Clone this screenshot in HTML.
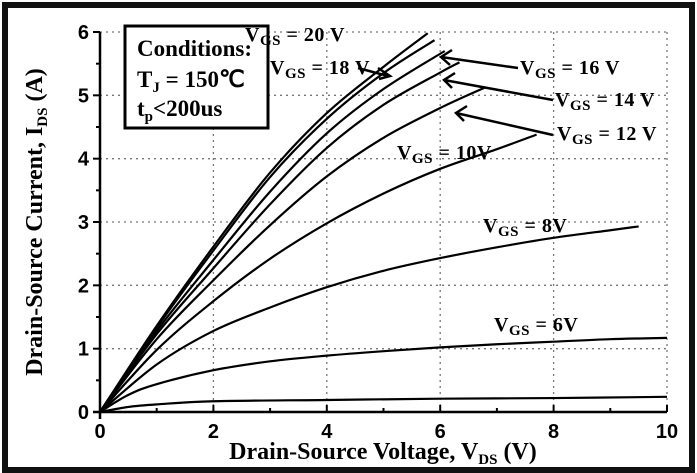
<!DOCTYPE html>
<html><head><meta charset="utf-8"><style>
html,body{margin:0;padding:0;background:#fff;}
svg{display:block;}
.tk{font-family:"Liberation Sans",sans-serif;font-weight:bold;font-size:20px;fill:#000;}
.lb{font-family:"Liberation Serif",serif;font-weight:bold;fill:#000;}
</style></head><body>
<svg id="chart" width="697" height="473" viewBox="0 0 697 473">
<rect x="5" y="5" width="687" height="465" fill="#fff" stroke="#111" stroke-width="6"/>
<g id="grid"></g>
<g id="axes"></g>
<g id="series"></g>
<g id="labels">
  <rect x="125" y="26" width="143" height="102" fill="#fff" stroke="#000" stroke-width="3"/>
  <text class="lb" x="137" y="56" font-size="23">Conditions:</text>
  <text class="lb" x="137" y="87" font-size="23">T<tspan font-size="15" dy="5">J</tspan><tspan dy="-5"> = 150℃</tspan></text>
  <text class="lb" x="137" y="116" font-size="23">t<tspan font-size="15" dy="5">p</tspan><tspan dy="-5">&lt;200us</tspan></text>
  <g font-size="20" letter-spacing="0.5">
  <text class="lb" x="245" y="41">V<tspan font-size="15" dy="4">GS</tspan><tspan dy="-4"> = 20 V</tspan></text>
  <text class="lb" x="270" y="74">V<tspan font-size="15" dy="4">GS</tspan><tspan dy="-4"> = 18 V</tspan></text>
  <text class="lb" x="520" y="74">V<tspan font-size="15" dy="4">GS</tspan><tspan dy="-4"> = 16 V</tspan></text>
  <text class="lb" x="555" y="106">V<tspan font-size="15" dy="4">GS</tspan><tspan dy="-4"> = 14 V</tspan></text>
  <text class="lb" x="557" y="140">V<tspan font-size="15" dy="4">GS</tspan><tspan dy="-4"> = 12 V</tspan></text>
  <text class="lb" x="397" y="159">V<tspan font-size="15" dy="4">GS</tspan><tspan dy="-4"> = 10V</tspan></text>
  <text class="lb" x="483" y="232">V<tspan font-size="15" dy="4">GS</tspan><tspan dy="-4"> = 8V</tspan></text>
  <text class="lb" x="494" y="331">V<tspan font-size="15" dy="4">GS</tspan><tspan dy="-4"> = 6V</tspan></text>
  </g>
  <g stroke="#000" stroke-width="2.5" fill="none">
    <path d="M358 68 L388 76 M378 68 L390 76 L379 79"/>
    <path d="M518 68 L441 57 M452 50 L441 57 L450 65"/>
    <path d="M553 100 L444 80 M455 73 L444 80 L452 88"/>
    <path d="M553 135 L456 113 M467 106 L456 113 L464 121"/>
  </g>
  <text class="lb" x="383" y="459" font-size="24" text-anchor="middle">Drain-Source Voltage, V<tspan font-size="15" dy="5">DS</tspan><tspan dy="-5"> (V)</tspan></text>
  <text class="lb" font-size="24" text-anchor="middle" transform="translate(42,222) rotate(-90)">Drain-Source Current, I<tspan font-size="15" dy="5">DS</tspan><tspan dy="-5"> (A)</tspan></text>
</g>
</svg>
<script>
const xTicks = [0, 2, 4, 6, 8, 10];
const yTicks = [0, 1, 2, 3, 4, 5, 6];
const vds20 = [0, 1, 2, 3, 4, 5, 5.78];
const ids20 = [0, 1.36, 2.61, 3.78, 4.72, 5.45, 5.98];
const vds18 = [0, 1, 2, 3, 4, 5, 5.9];
const ids18 = [0, 1.33, 2.55, 3.71, 4.63, 5.35, 5.87];
const vds16 = [0, 1, 2, 3, 4, 5, 6.08];
const ids16 = [0, 1.28, 2.4, 3.48, 4.4, 5.1, 5.7];
const vds14 = [0, 1, 2, 3, 4, 5, 6, 6.34];
const ids14 = [0, 1.23, 2.27, 3.28, 4.17, 4.85, 5.36, 5.52];
const vds12 = [0, 1, 2, 3, 4, 5, 6, 6.78];
const ids12 = [0, 1.15, 2.08, 2.95, 3.72, 4.33, 4.8, 5.12];
const vds10 = [0, 1, 2, 3, 4, 5, 6, 7, 7.7];
const ids10 = [0, 0.98, 1.75, 2.42, 2.98, 3.45, 3.84, 4.15, 4.38];
const vds8 = [0, 1, 2, 3, 4, 5, 6, 7, 8, 9, 9.5];
const ids8 = [0, 0.75, 1.28, 1.65, 1.97, 2.23, 2.43, 2.6, 2.75, 2.87, 2.93];
const vds6 = [0, 0.5, 1, 2, 3, 4, 5, 6, 7, 8, 9, 10];
const ids6 = [0, 0.27, 0.44, 0.66, 0.8, 0.89, 0.96, 1.02, 1.07, 1.11, 1.15, 1.17];
const vds4 = [0, 0.5, 1, 2, 4, 6, 8, 10];
const ids4 = [0, 0.08, 0.12, 0.17, 0.19, 0.21, 0.22, 0.24];
const seriesNames = ['vgs-20','vgs-18','vgs-16','vgs-14','vgs-12','vgs-10','vgs-8','vgs-6','vgs-4'];
const seriesX = [vds20, vds18, vds16, vds14, vds12, vds10, vds8, vds6, vds4];
const seriesY = [ids20, ids18, ids16, ids14, ids12, ids10, ids8, ids6, ids4];

const X0 = 100, X1 = 667, Y0 = 412, Y1 = 32;
const xs = v => X0 + (v - 0) / 10 * (X1 - X0);
const ys = v => Y0 - (v - 0) / 6 * (Y0 - Y1);
const NS = 'http://www.w3.org/2000/svg';
function mk(tag, attrs, parent) {
  const e = document.createElementNS(NS, tag);
  for (const k in attrs) e.setAttribute(k, attrs[k]);
  parent.appendChild(e);
  return e;
}
const grid = document.getElementById('grid');
const axes = document.getElementById('axes');
const series = document.getElementById('series');

xTicks.forEach(t => {
  if (t > 0) {
    const g = mk('line', {x1: xs(t), x2: xs(t), y1: Y0, y2: Y1, stroke: '#777', 'stroke-width': 1.3, 'stroke-dasharray': '2 4'}, grid);
    
    
  }
  const tl = mk('text', {x: xs(t), y: Y0 + 26, 'text-anchor': 'middle', class: 'tk'}, axes);
  tl.textContent = t;
  
  
});
for (let t = 1; t <= 10; t++) {
  const len = t % 2 === 0 ? 7 : 4;
  const tk = mk('line', {x1: xs(t), x2: xs(t), y1: Y0, y2: Y0 - len, stroke: '#000', 'stroke-width': 2}, axes);
  
  
}
yTicks.forEach(t => {
  if (t > 0) {
    const g = mk('line', {x1: X0, x2: X1, y1: ys(t), y2: ys(t), stroke: '#777', 'stroke-width': 1.3, 'stroke-dasharray': '2 4'}, grid);
    
    
  }
  const tl = mk('text', {x: X0 - 11, y: ys(t) + 7, 'text-anchor': 'end', class: 'tk'}, axes);
  tl.textContent = t;
  
  
});
for (let t = 0; t <= 12; t++) {
  const len = t % 2 === 0 ? 7 : 4;
  const tk = mk('line', {x1: X0, x2: X0 - len, y1: ys(t / 2), y2: ys(t / 2), stroke: '#000', 'stroke-width': 2}, axes);
  
  
}
const ax1 = mk('line', {x1: X0, x2: X0, y1: Y0 + 7, y2: Y1, stroke: '#000', 'stroke-width': 2.5}, axes);


const ax2 = mk('line', {x1: X0 - 7, x2: X1, y1: Y0, y2: Y0, stroke: '#000', 'stroke-width': 2.5}, axes);



function pathFor(px, py) {
  const p = px.map((v, i) => [xs(v), ys(py[i])]);
  let d = 'M' + p[0][0] + ' ' + p[0][1];
  for (let i = 0; i < p.length - 1; i++) {
    const a = p[i - 1] || p[i], b = p[i], c = p[i + 1], e = p[i + 2] || c;
    const c1 = [b[0] + (c[0] - a[0]) / 6, b[1] + (c[1] - a[1]) / 6];
    const c2 = [c[0] - (e[0] - b[0]) / 6, c[1] - (e[1] - b[1]) / 6];
    d += ' C' + c1[0] + ' ' + c1[1] + ' ' + c2[0] + ' ' + c2[1] + ' ' + c[0] + ' ' + c[1];
  }
  return d;
}
seriesX.forEach((sx, i) => {
  const l = mk('path', {d: pathFor(sx, seriesY[i]), fill: 'none', stroke: '#000', 'stroke-width': 2.2}, series);
  
  
});
</script>
</body></html>
